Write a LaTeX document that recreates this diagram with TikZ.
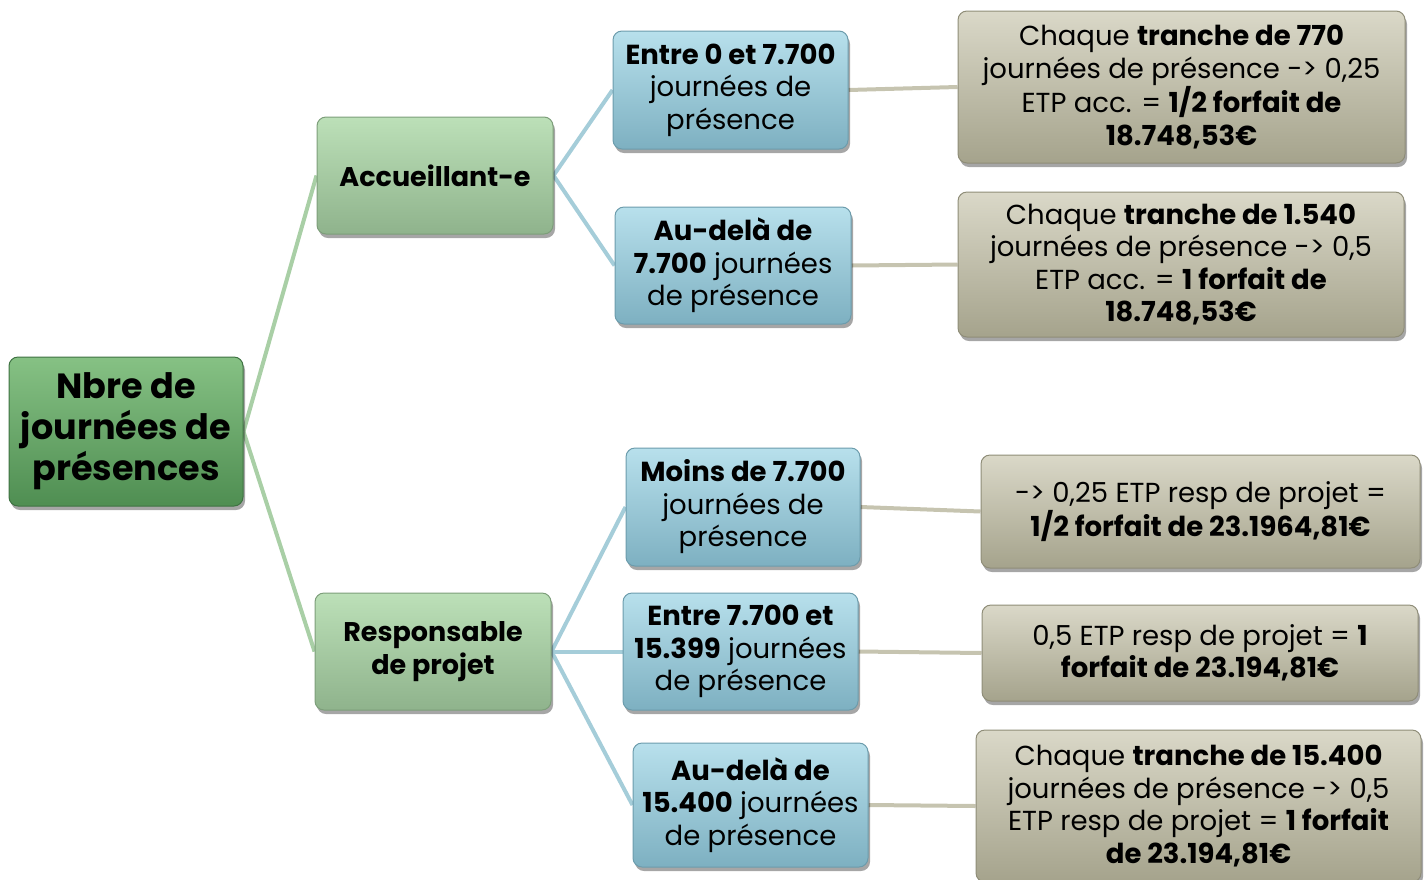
\documentclass[tikz,border=0pt]{standalone}
\usepackage{fontspec}
\setmainfont{Poppins}
\usetikzlibrary{shadows,backgrounds}
\definecolor{rootA}{HTML}{86C184}
\definecolor{rootB}{HTML}{4F8E52}
\definecolor{rootD}{HTML}{3E7242}
\definecolor{lgA}{HTML}{BCE0B8}
\definecolor{lgB}{HTML}{8FB38C}
\definecolor{lgD}{HTML}{7D9E7A}
\definecolor{blA}{HTML}{B8E0EC}
\definecolor{blB}{HTML}{7DB0C1}
\definecolor{blD}{HTML}{6C9CAC}
\definecolor{tnA}{HTML}{DAD8C8}
\definecolor{tnB}{HTML}{A5A38C}
\definecolor{tnD}{HTML}{8F8D78}
\definecolor{cGreen}{HTML}{A9CFA6}
\definecolor{cBlue}{HTML}{A5CDD9}
\definecolor{cTan}{HTML}{C6C4B0}
\begin{document}
\begin{tikzpicture}[x=1pt,y=-1pt,
  box/.style={rounded corners=9pt, align=center, inner sep=2pt, line width=1pt,
    drop shadow={shadow xshift=2pt, shadow yshift=-4pt, opacity=0.35, fill=black}},
  rootbox/.style={box, top color=rootA, bottom color=rootB, draw=rootD,
    font=\bfseries\fontsize{35}{41}\selectfont},
  midbox/.style={box, top color=lgA, bottom color=lgB, draw=lgD,
    font=\bfseries\fontsize{27}{33}\selectfont},
  bluebox/.style={box, top color=blA, bottom color=blB, draw=blD,
    font=\fontsize{27.5}{32.5}\selectfont},
  tanbox/.style={box, top color=tnA, bottom color=tnB, draw=tnD,
    font=\fontsize{27.5}{32.5}\selectfont},
  gline/.style={draw=cGreen, line width=4pt},
  bline/.style={draw=cBlue, line width=4pt},
  tline/.style={draw=cTan, line width=4pt}
]
\useasboundingbox (0,0) rectangle (1427,879);
\node[rootbox, minimum width=234pt, minimum height=149pt] (root) at (126,431.5)
  {Nbre de\\journées de\\présences};
\node[midbox, minimum width=236pt, minimum height=117pt] (acc) at (435,175.5)
  {Accueillant-e};
\node[midbox, minimum width=236pt, minimum height=117pt] (resp) at (433,651.5)
  {Responsable\\de projet};
\node[bluebox, minimum width=235pt, minimum height=118pt] (b1) at (730.5,90)
  {\textbf{Entre 0 et 7.700}\\journées de\\présence};
\node[bluebox, minimum width=236pt, minimum height=117pt] (b2) at (733,265.5)
  {\textbf{Au-delà de}\\\textbf{7.700} journées\\de présence};
\node[bluebox, minimum width=234pt, minimum height=118pt] (b3) at (743,507)
  {\textbf{Moins de 7.700}\\journées de\\présence};
\node[bluebox, minimum width=235pt, minimum height=117pt] (b4) at (740.5,651.5)
  {\textbf{Entre 7.700 et}\\\textbf{15.399} journées\\de présence};
\node[bluebox, minimum width=235pt, minimum height=124pt] (b5) at (750.5,805)
  {\textbf{Au-delà de}\\\textbf{15.400} journées\\de présence};
\node[tanbox, minimum width=447pt, minimum height=152pt] (t1) at (1181.5,87)
  {Chaque \textbf{tranche de 770}\\journées de présence {-}> 0,25\\ETP acc. = \textbf{1/2 forfait de}\\\textbf{18.748,53€}};
\node[tanbox, minimum width=446pt, minimum height=145pt] (t2) at (1181,264.5)
  {Chaque \textbf{tranche de 1.540}\\journées de présence {-}> 0,5\\ETP acc. = \textbf{1 forfait de}\\\textbf{18.748,53€}};
\node[tanbox, minimum width=439pt, minimum height=113pt] (t3) at (1200.5,511.5)
  {{-}> 0,25 ETP resp de projet =\\\textbf{1/2 forfait de 23.1964,81€}};
\node[tanbox, minimum width=436pt, minimum height=96pt] (t4) at (1200,653)
  {0,5 ETP resp de projet = \textbf{1}\\\textbf{forfait de 23.194,81€}};
\node[tanbox, minimum width=445pt, minimum height=152pt] (t5) at (1198.5,806)
  {Chaque \textbf{tranche de 15.400}\\journées de présence {-}> 0,5\\ETP resp de projet = \textbf{1 forfait}\\\textbf{de 23.194,81€}};
\begin{scope}[on background layer]
  \draw[gline] (root.east) -- (acc.west);
  \draw[gline] (root.east) -- (resp.west);
  \draw[bline] (acc.east) -- (b1.west);
  \draw[bline] (acc.east) -- (b2.west);
  \draw[bline] (resp.east) -- (b3.west);
  \draw[bline] (resp.east) -- (b4.west);
  \draw[bline] (resp.east) -- (b5.west);
  \draw[tline] (b1.east) -- (t1.west);
  \draw[tline] (b2.east) -- (t2.west);
  \draw[tline] (b3.east) -- (t3.west);
  \draw[tline] (b4.east) -- (t4.west);
  \draw[tline] (b5.east) -- (t5.west);
\end{scope}
\end{tikzpicture}
\end{document}
